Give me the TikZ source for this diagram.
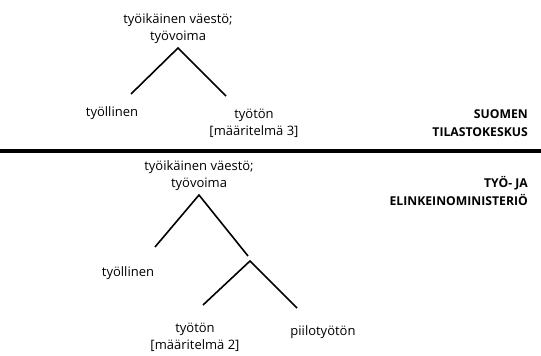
\documentclass[tikz,border=0pt]{standalone}
\usepackage{fontspec}
\setmainfont{Open Sans}
\usetikzlibrary{calc,positioning}

\begin{document}
\begin{tikzpicture}[x=1pt, y=-1pt,
		term/.style={align=center, font=\fontsize{13}{17}\selectfont, inner sep=0pt},
		org/.style={align=right, anchor=east, font=\fontsize{12.2}{18}\selectfont\bfseries, inner sep=0pt},
		branch/.style={line width=1.6pt}]
	\useasboundingbox (0,0) rectangle (541,356);

	% ylempi puu
	\node[term] (a0) at (178, 29) {työikäinen väestö;\\työvoima};
	\coordinate (a1) at (178, 48);
	\coordinate (a2) at (131, 94);
	\coordinate (a3) at (226, 96);
	\node[term] (a4) at (112, 113) {työllinen};
	\node[term] (a5) at (254, 123) {työtön\\{}[määritelmä 3]};
	\draw[branch] (a2) -- (a1) -- (a3);

	\node[org] (s1) at (528, 123) {SUOMEN\\TILASTOKESKUS};

	% erotinviiva
	\coordinate (r1) at (0, 151);
	\coordinate (r2) at (541, 151);
	\draw[line width=3.5pt] (r1) -- (r2);

	\node[org] (s2) at (528, 191) {TYÖ- JA\\ELINKEINOMINISTERIÖ};

	% alempi puu
	\node[term] (b0) at (199, 176) {työikäinen väestö;\\työvoima};
	\coordinate (b1) at (199, 195);
	\coordinate (b2) at (155, 247);
	\coordinate (b3) at (248, 256);
	\coordinate (b4) at (250, 261);
	\coordinate (b5) at (203, 305);
	\coordinate (b6) at (297, 308);
	\node[term] (b7) at (128, 273) {työllinen};
	\node[term] (b8) at (195, 337) {työtön\\{}[määritelmä 2]};
	\node[term] (b9) at (323, 332) {piilotyötön};
	\draw[branch] (b2) -- (b1) -- (b3);
	\draw[branch] (b5) -- (b4) -- (b6);
\end{tikzpicture}
\end{document}
